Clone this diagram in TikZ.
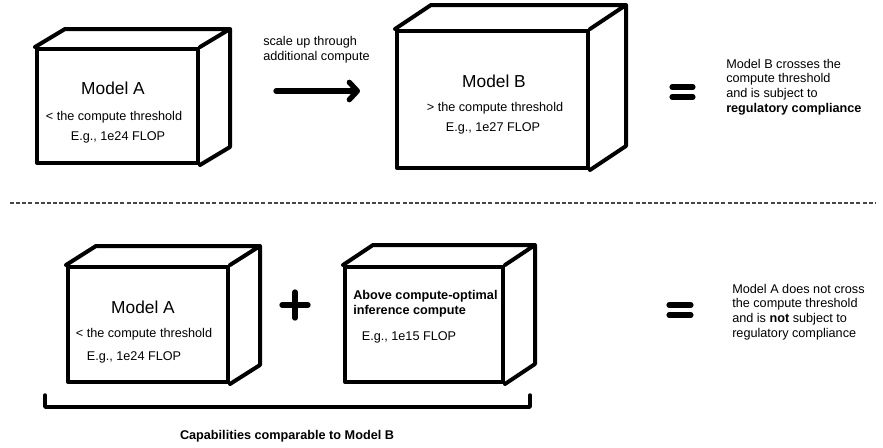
\documentclass[tikz,border=0pt]{standalone}
\usepackage{fontspec}
\setmainfont{Liberation Sans}
\usetikzlibrary{positioning,calc,fit,arrows.meta}

% back edges of a cube drawn behind a front face node
\newcommand\cubeback[3]{\draw[edge] (#1.north west) -- ++(#2,#3) -- ($(#1.north east)+(#2,#3)$) -- ($(#1.south east)+(#2,#3)$) -- (#1.south east) (#1.north east) -- ++(#2,#3);}

\begin{document}
\begin{tikzpicture}[x=0.75pt,y=-0.75pt,
  face/.style={draw,line width=3pt,line join=round,inner sep=0pt},
  edge/.style={line width=3pt,line join=round,line cap=round},
  big/.style={font=\fontsize{13}{15}\selectfont},
  small/.style={font=\fontsize{9.5}{11}\selectfont},
  note/.style={small,align=left,anchor=west,inner sep=0pt},
  bar/.style={line width=3.8pt,line cap=round}]
\useasboundingbox (0,0) rectangle (883,447);

% top row
\node[face,fit={(37,49)(198,163)}] (topA) {};
\cubeback{topA}{30}{-18}
\node[big] (topAname) at (113,88) {Model A};
\node[small] (topAless) at (114,117) {< the compute threshold};
\node[small] (topAflop) at (118,137) {E.g., 1e24 FLOP};

\node[note] (scaleup) at (263,50) {scale up through\\additional compute};
\coordinate (arrS) at (276,91); \coordinate (arrE) at (360,91);
\draw[line width=4pt,line cap=round,-{Straight Barb[length=6pt,width=13pt,round]}] (arrS) -- (arrE);

\node[face,fit={(397,31)(588,168)}] (topB) {};
\cubeback{topB}{36}{-24}
\node[big] (topBname) at (494,81) {Model B};
\node[small] (topBmore) at (495,108) {> the compute threshold};
\node[small] (topBflop) at (493,128) {E.g., 1e27 FLOP};

\coordinate (eqTop) at (682,92);
\draw[bar] ($(eqTop)+(-10,-5)$) -- ++(21,0) ($(eqTop)+(-10,5)$) -- ++(21,0);
\node[note] (topNote) at (726,87) {Model B crosses the\\compute threshold\\and is subject to\\\textbf{regulatory compliance}};

% separator
\coordinate (sepL) at (10,203); \coordinate (sepR) at (876,203);
\draw[gray!55!black,line width=1.1pt,dash pattern=on 3pt off 1.6pt] (sepL) -- (sepR);

% bottom row
\node[face,fit={(68,267)(228,382)}] (botA) {};
\cubeback{botA}{30}{-19}
\node[big] (botAname) at (143,307) {Model A};
\node[small] (botAless) at (144,334) {< the compute threshold};
\node[small] (botAflop) at (134,357) {E.g., 1e24 FLOP};

\coordinate (plus) at (295,305);
\draw[bar,line width=4pt] ($(plus)+(-13,0)$) -- ++(26,0) ($(plus)+(0,-13)$) -- ++(0,26);

\node[face,fit={(345,267)(503,382)}] (botB) {};
\cubeback{botB}{30}{-20}
\node[note,font=\fontsize{9.5}{11}\selectfont\bfseries] (botBname) at (353,304) {Above compute-optimal\\inference compute};
\node[small] (botBflop) at (409,337) {E.g., 1e15 FLOP};

\coordinate (brL) at (45,395); \coordinate (brR) at (530,395);
\draw[edge,line width=2.6pt] (brL) |- (287,407) -| (brR);
\node[small,font=\fontsize{9.5}{11}\selectfont\bfseries] (capab) at (287,436) {Capabilities comparable to Model B};

\coordinate (eqBot) at (680,310);
\draw[bar] ($(eqBot)+(-11,-5)$) -- ++(22,0) ($(eqBot)+(-11,5)$) -- ++(22,0);
\node[note] (botNote) at (732,312) {Model A does not cross\\the compute threshold\\and is \textbf{not} subject to\\regulatory compliance};
\end{tikzpicture}
\end{document}
